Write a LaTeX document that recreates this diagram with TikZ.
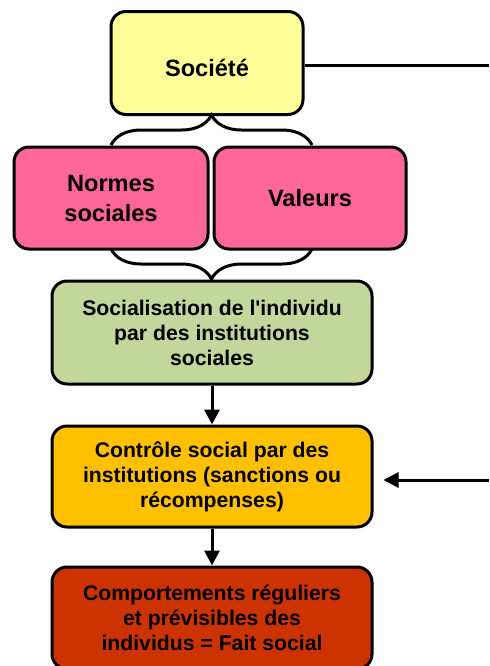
\documentclass[tikz,border=0pt]{standalone}
\usepackage{fontspec}
\setmainfont{Liberation Sans}[Ligatures=TeXOff]
\usetikzlibrary{arrows.meta,decorations.pathreplacing}
\definecolor{jaune}{HTML}{FFFF99}
\definecolor{rose}{HTML}{FF6699}
\definecolor{vert}{HTML}{C3D69B}
\definecolor{orange}{HTML}{FFC000}
\definecolor{brique}{HTML}{CC3300}
\tikzset{
  boite/.style={draw, line width=1.5pt, rounded corners=7.5pt, align=center,
    font=\bfseries\fontsize{11.8}{15}\selectfont},
  petit/.style={font=\bfseries\fontsize{10.6}{12.5}\selectfont},
  fleche/.style={line width=1.5pt, -{Triangle[length=7.5pt,width=7.5pt]}},
  accolade/.style={line width=1.5pt, decorate, decoration={brace, amplitude=15pt}}
}
\begin{document}
\begin{tikzpicture}[x=0.5pt, y=-0.5pt]
                    \clip (0,0) rectangle (489,666);
                    \node[boite, fill=jaune, minimum width=96pt, minimum height=51.5pt] (societe) at (207,63) {\raisebox{-6.5pt}[0pt][0pt]{Société}};
                    \node[boite, fill=rose, minimum width=97pt, minimum height=51pt] (normes) at (111,198) {Normes\\sociales};
                    \node[boite, fill=rose, minimum width=96pt, minimum height=51pt] (valeurs) at (310,198) {Valeurs};
                    \node[boite, petit, fill=vert, minimum width=160pt, minimum height=51.5pt] (social) at (212,332.5) {Socialisation de l'individu\\par des institutions\\sociales};
                    \node[boite, petit, fill=orange, minimum width=160pt, minimum height=50.5pt] (controle) at (212,476.5) {Contrôle social par des\\institutions (sanctions ou\\récompenses)};
                    \node[boite, petit, fill=brique, minimum width=160pt, minimum height=51pt] (comport) at (212,618) {Comportements réguliers\\et prévisibles des\\individus = Fait social};

                    \coordinate (haut) at (489,65);
                    \coordinate (retour) at (489,480);
                    \coordinate (a1) at (111,145);
                    \coordinate (a2) at (312,145);
                    \coordinate (b1) at (111,249);
                    \coordinate (b2) at (312,249);

                    \draw[line width=1.5pt] (societe.east |- haut) -- (haut);
                    \draw[accolade] (a1) -- (a2);
                    \draw[accolade] (b2) -- (b1);
                    \draw[fleche] (social) -- (controle);
                    \draw[fleche] (controle) -- (comport);
                    \draw[fleche, shorten >=5pt] (retour) -- (retour -| controle.east);
                \end{tikzpicture}
\end{document}
